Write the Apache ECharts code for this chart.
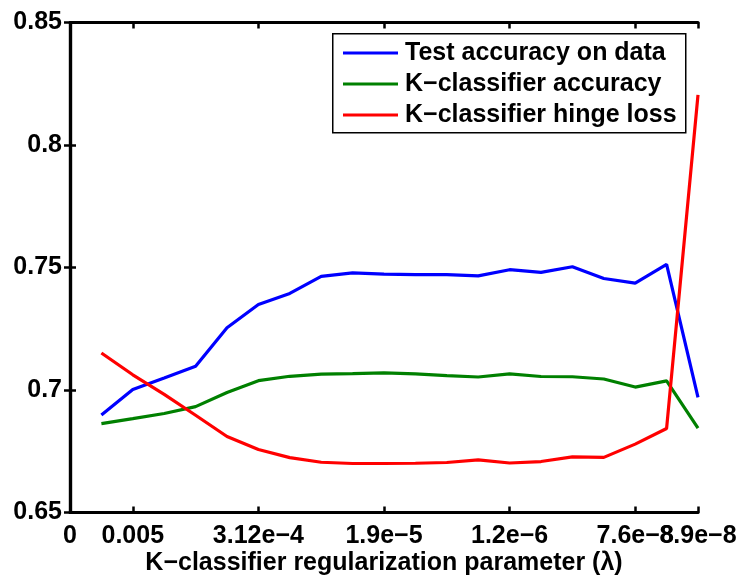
<!DOCTYPE html>
<html>
<head>
<meta charset="utf-8">
<script src="https://cdn.jsdelivr.net/npm/echarts@6/dist/echarts.min.js"></script>
<style>
  html, body { margin: 0; padding: 0; background: #fff; }
  #chart { width: 742px; height: 577px; }
</style>
</head>
<body>
<div id="chart"></div>
<script>
// Regularization sweep: one point per lambda setting, positions 1..20 on the x axis
const steps = [1, 2, 3, 4, 5, 6, 7, 8, 9, 10, 11, 12, 13, 14, 15, 16, 17, 18, 19, 20];

const testAccuracy = [0.6898, 0.7002, 0.7049, 0.7097, 0.7254, 0.7349, 0.7394, 0.7464, 0.7478, 0.7473,
                      0.7471, 0.7471, 0.7466, 0.7491, 0.7480, 0.7503, 0.7455, 0.7436, 0.7513, 0.6970];
const kAccuracy = [0.6863, 0.6883, 0.6904, 0.6932, 0.6990, 0.7038, 0.7056, 0.7065, 0.7067, 0.7070,
                   0.7066, 0.7059, 0.7053, 0.7066, 0.7055, 0.7054, 0.7045, 0.7012, 0.7037, 0.6844];
const kHingeLoss = [0.7151, 0.7062, 0.6982, 0.6897, 0.6810, 0.6757, 0.6724, 0.6705, 0.6700, 0.6700,
                    0.6701, 0.6704, 0.6715, 0.6702, 0.6708, 0.6727, 0.6725, 0.6779, 0.6843, 0.8205];

// Tick positions on the x axis and the lambda values printed under them
const xTickPos = [0, 2, 6, 10, 14, 18, 20];
const xTickLabels = ['0', '0.005', '3.12e\u22124', '1.9e\u22125', '1.2e\u22126', '7.6e\u22128', '8.9e\u22128'];

const seriesNames = ['Test accuracy on data', 'K\u2212classifier accuracy', 'K\u2212classifier hinge loss'];
const seriesColors = ['#0000ff', '#008000', '#ff0000'];

const FONT = '"Liberation Sans", Arial, Helvetica, sans-serif';
const labelMap = {};
xTickPos.forEach((p, i) => { labelMap[p] = xTickLabels[i]; });
// The last two labels overlap; the final one sits on its own axis so both stay drawn
const lastPos = xTickPos[xTickPos.length - 1];
const innerPos = xTickPos.slice(0, -1);

const chart = echarts.init(document.getElementById('chart'), null, { renderer: 'canvas' });

const axisLine = { show: true, lineStyle: { color: '#000', width: 3.2 } };
const tickStyle = { show: true, inside: true, length: 6, lineStyle: { color: '#000', width: 2.5 } };
const labelFont = { color: '#000', fontFamily: FONT, fontWeight: 'bold', fontSize: 25 };
const fmt = v => labelMap[v] !== undefined ? labelMap[v] : '';

const pairs = arr => steps.map((s, i) => [s, arr[i]]);

chart.setOption({
  animation: false,
  backgroundColor: '#fff',
  grid: { left: 70, right: 44, top: 22.5, bottom: 64.5, containLabel: false, outerBoundsMode: 'none' },
  xAxis: [
    {
      type: 'value', min: 0, max: 20, position: 'bottom',
      axisLine: axisLine,
      axisTick: Object.assign({ customValues: xTickPos }, tickStyle),
      axisLabel: Object.assign({
        customValues: innerPos, margin: 11, hideOverlap: false,
        showMinLabel: true, formatter: fmt
      }, labelFont),
      splitLine: { show: false },
      name: 'K\u2212classifier regularization parameter (\u03bb)',
      nameLocation: 'middle', nameGap: 38, nameMoveOverlap: false,
      nameTextStyle: labelFont
    },
    {
      type: 'value', min: 0, max: 20, position: 'top',
      axisLine: axisLine,
      axisTick: Object.assign({ customValues: xTickPos }, tickStyle),
      axisLabel: { show: false },
      splitLine: { show: false }
    },
    {
      type: 'value', min: 0, max: 20, position: 'bottom', offset: 0,
      axisLine: { show: false },
      axisTick: { show: false },
      axisLabel: Object.assign({
        customValues: [lastPos], margin: 11, hideOverlap: false,
        showMaxLabel: true, formatter: fmt
      }, labelFont),
      splitLine: { show: false }
    }
  ],
  yAxis: [
    {
      type: 'value', min: 0.65, max: 0.85, interval: 0.05, position: 'left',
      axisLine: axisLine,
      axisTick: tickStyle,
      axisLabel: Object.assign({ margin: 8, showMinLabel: true, showMaxLabel: true }, labelFont),
      splitLine: { show: false }
    },
    {
      type: 'value', min: 0.65, max: 0.85, interval: 0.05, position: 'right',
      axisLine: axisLine,
      axisTick: tickStyle,
      axisLabel: { show: false },
      splitLine: { show: false }
    }
  ],
  legend: {
    orient: 'vertical', left: 332, top: 38,
    padding: [0, 0, 0, 11],
    itemWidth: 55, itemHeight: 3, itemGap: 1,
    icon: 'rect',
    textStyle: { color: '#000', fontFamily: FONT, fontWeight: 'bold', fontSize: 25, lineHeight: 30, padding: [0, 0, 0, 2] },
    data: seriesNames,
    z: 10
  },
  graphic: [
    {
      type: 'rect', left: 332, top: 33, z: 5,
      shape: { width: 353, height: 99 },
      style: { fill: '#fff', stroke: '#000', lineWidth: 1.5 }
    }
  ],
  series: [testAccuracy, kAccuracy, kHingeLoss].map((arr, i) => ({
    name: seriesNames[i],
    type: 'line',
    data: pairs(arr),
    symbol: 'none',
    lineStyle: { color: seriesColors[i], width: 3.2 },
    itemStyle: { color: seriesColors[i] },
    z: 2
  }))
});
</script>
</body>
</html>
